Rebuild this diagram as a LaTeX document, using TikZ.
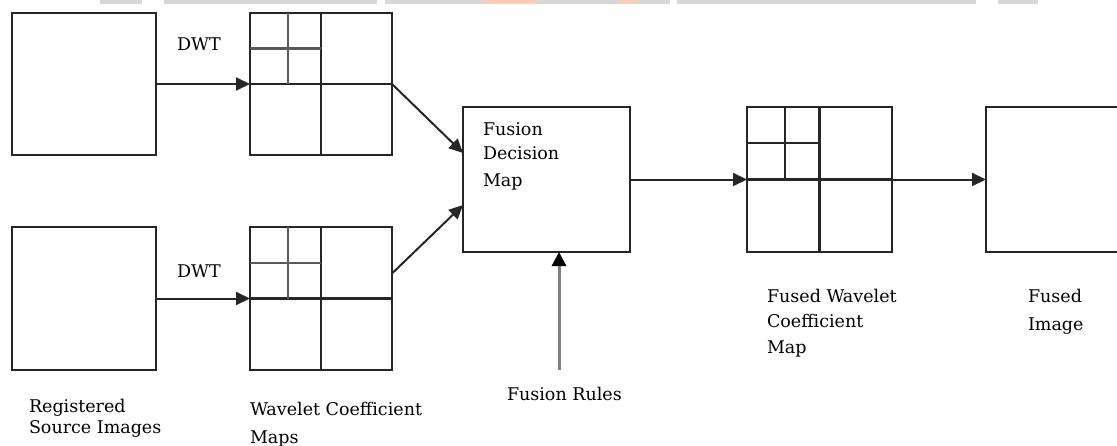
\documentclass[tikz,border=0pt]{standalone}
\usepackage{fontspec}
\setmainfont{DejaVu Serif}
\usetikzlibrary{arrows.meta,calc}
\definecolor{wmgray}{RGB}{216,216,216}
\definecolor{wmorange}{RGB}{250,204,182}
\definecolor{subgray}{RGB}{90,90,90}
\begin{document}
\begin{tikzpicture}[x=1pt,y=-1pt,
  box/.style={draw=black!85,line width=2.3pt,minimum width=#1,inner sep=0pt,outer sep=0pt},
  box/.default=143pt,
  conn/.style={draw=black!85,line width=2pt,-{Triangle[length=14pt,width=13pt]}},
  lbl/.style={inner sep=0pt,outer sep=0pt,align=left,font=\fontsize{17.5}{24}\selectfont},
  subline/.style={line width=2.1pt,draw=#1},
  subline/.default=black!85]
\useasboundingbox (0,0) rectangle (1117,445);
% watermark fragments
\foreach \a/\b in {100/142,164/377,385/484,537/620,637/670,677/976,998/1038}
  \fill[wmgray] (\a,0) rectangle (\b,4);
\foreach \a/\b in {484/537,620/637}
  \fill[wmorange] (\a,0) rectangle (\b,4);
% boxes
\node[box=144pt,minimum height=142pt] (src1) at (84,84) {};
\node[box=142pt,minimum height=142pt] (map1) at (321,84) {};
\node[box=144pt,minimum height=143pt] (src2) at (84,298.5) {};
\node[box=142pt,minimum height=143pt] (map2) at (321,298.5) {};
\node[box=167pt,minimum height=145pt] (fusion) at (546.5,179.5) {};
\node[box=145pt,minimum height=145pt] (fmap) at (819.5,179.5) {};
\node[box=150pt,minimum height=145pt] (fimg) at (1061,179.5) {};
% subdivisions
\foreach \m/\c in {map1/subgray,map2/subgray,fmap/black!85}{
  \draw[subline] (\m.north) -- (\m.south);
  \draw[subline] (\m.west) -- (\m.east);
  \draw[subline=\c] ($(\m.north west)!0.53!(\m.north)$) -- ($(\m.west)!0.53!(\m.center)$);
  \draw[subline=\c] ($(\m.north west)!0.5!(\m.west)$) -- ($(\m.north)!0.5!(\m.center)$);
}
% connectors
\draw[conn] (src1.east) -- (map1.west);
\draw[conn] (src2.east) -- (map2.west);
\draw[conn] (map1.east) -- ([yshift=26.5pt]fusion.west);
\draw[conn] ([yshift=25pt]map2.east) -- ([yshift=-25.5pt]fusion.west);
\draw[conn] (fusion.east) -- (fmap.west);
\draw[conn] (fmap.east) -- (fimg.west);
\coordinate (rulestart) at (559,370);
\draw[line width=3pt,draw=black!50,-{Triangle[length=14pt,width=14pt,color=black,fill=black]}] (rulestart) -- (rulestart |- fusion.south);
% labels
\node[lbl,anchor=base west] (dwt1) at (177,50) {DWT};
\node[lbl,anchor=base west] (dwt2) at (177,277) {DWT};
\node[lbl,anchor=north west] (fdm) at (483,122.7) {Fusion\\Decision\\[3pt]Map};
\node[lbl,anchor=north west] (reg) at (29,398.7) {Registered\\[-3pt]Source Images};
\node[lbl,anchor=north west] (wcm) at (250,401.7) {Wavelet Coefficient\\[4pt]Maps};
\node[lbl,anchor=base west] (rules) at (507,400) {Fusion Rules};
\node[lbl,anchor=north west] (fwcm) at (767,288.7) {Fused Wavelet\\[1pt]Coefficient\\[2pt]Map};
\node[lbl,anchor=north west] (fi) at (1028,288.7) {Fused\\[4pt]Image};
\end{tikzpicture}
\end{document}
